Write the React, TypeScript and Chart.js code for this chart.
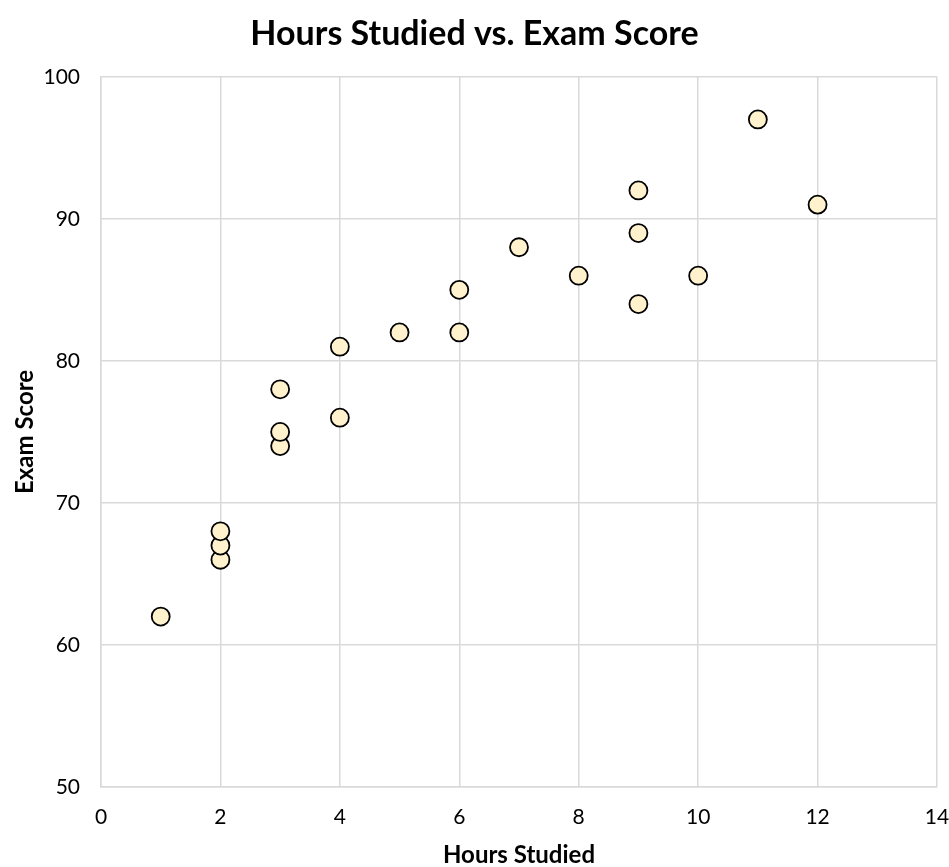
import React, { useEffect, useRef } from "react";
import { Chart, registerables } from "chart.js";

Chart.register(...registerables);

const hours: number[] = [1, 2, 2, 2, 3, 3, 3, 4, 4, 5, 6, 6, 7, 8, 9, 9, 9, 10, 11, 12];
const scores: number[] = [62, 66, 67, 68, 74, 75, 78, 76, 81, 82, 82, 85, 88, 86, 84, 89, 92, 86, 97, 91];
const chartTitle = "Hours Studied vs. Exam Score";
const xTitle = "Hours Studied";
const yTitle = "Exam Score";

export default function App() {
  const ref = useRef<HTMLCanvasElement | null>(null);
  useEffect(() => {
    document.body.style.margin = "0";
    const ctx = ref.current!;
    const font = "Lato, 'Open Sans', sans-serif";
    const chart = new Chart(ctx, {
      type: "scatter",
      data: {
        datasets: [
          {
            label: "Scores",
            data: hours.map((h, i) => ({ x: h, y: scores[i] })),
            backgroundColor: "#FFF2CC",
            borderColor: "#000000",
            borderWidth: 1.8,
            pointRadius: 9,
            pointHoverRadius: 9,
          },
        ],
      },
      options: {
        animation: false,
        responsive: false,
        maintainAspectRatio: false,
        layout: { autoPadding: false, padding: 0 },
        plugins: {
          legend: { display: false },
          tooltip: { enabled: false },
          title: {
            display: true,
            text: chartTitle,
            color: "#000",
            font: { family: font, size: 34, weight: "bold", lineHeight: 1.2 },
            padding: { top: 14, bottom: 22 },
          },
        },
        scales: {
          x: {
            type: "linear",
            min: 0,
            max: 14,
            ticks: { stepSize: 2, color: "#000", font: { family: font, size: 21, lineHeight: 1.2 }, padding: 18 },
            grid: { color: "#d9d9d9", lineWidth: 1.5, drawTicks: false },
            border: { color: "#d9d9d9", width: 1.5 },
            title: {
              display: true,
              text: xTitle,
              color: "#000",
              font: { family: font, size: 24, weight: "bold", lineHeight: 1.0 },
              padding: { top: 11, bottom: 0 },
            },
            afterFit: (scale: any) => {
              scale.height = 80;
              scale.paddingRight = 12;
              scale.paddingLeft = 0;
            },
            afterUpdate: (scale: any) => {
              scale._labelItems = null;
            },
          },
          y: {
            min: 50,
            max: 100,
            ticks: { stepSize: 10, color: "#000", font: { family: font, size: 21, lineHeight: 1.2 }, padding: 21 },
            grid: { color: "#d9d9d9", lineWidth: 1.5, drawTicks: false },
            border: { color: "#d9d9d9", width: 1.5 },
            title: {
              display: true,
              text: yTitle,
              color: "#000",
              font: { family: font, size: 24, weight: "bold", lineHeight: 1.0 },
              padding: { top: 13, bottom: 9 },
            },
            afterFit: (scale: any) => {
              scale.width = 101;
            },
          },
        },
      },
    });
    return () => chart.destroy();
  }, []);
  return (
    <div style={{ width: 949, height: 867, background: "#fff" }}>
      <canvas ref={ref} width={949} height={867} />
    </div>
  );
}
